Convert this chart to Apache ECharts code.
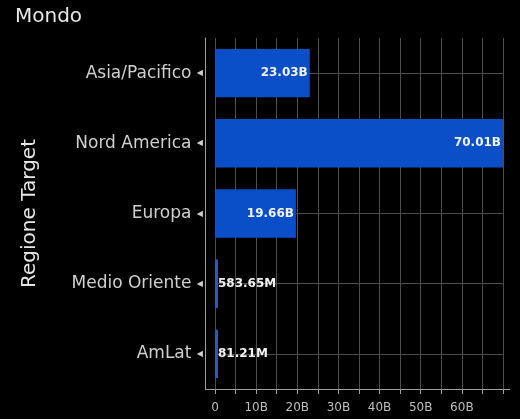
<!DOCTYPE html>
<html><head><meta charset="utf-8">
<script src="https://cdn.jsdelivr.net/npm/echarts@6/dist/echarts.min.js"></script>
<style>html,body{margin:0;padding:0;background:#000;}#c{width:520px;height:419px;}</style>
</head><body><div id="c"></div>
<script>
const categories = ['Asia/Pacifico', 'Nord America', 'Europa', 'Medio Oriente', 'AmLat'];
const valuesB = [23.03, 70.01, 19.66, 0.58365, 0.08121];
const xTickLabels = ['0', '10B', '20B', '30B', '40B', '50B', '60B'];

function fmt(v) {
  if (v >= 1) return v.toFixed(2) + 'B';
  return (v * 1000).toFixed(2) + 'M';
}

const chart = echarts.init(document.getElementById('c'), null, {renderer: 'canvas'});
const font = 'DejaVu Sans';
const axisColor = '#a0a0a0';
const gridLeft = 215, gridBottom = 30;
chart.setOption({
  backgroundColor: '#000',
  animation: false,
  title: {text: 'Mondo', left: 10, top: 2, textStyle: {color: '#e6e6e6', fontSize: 20, fontWeight: 'normal', fontFamily: font}},
  grid: {left: gridLeft, right: 17, top: 38, bottom: gridBottom, containLabel: false},
  xAxis: {
    type: 'value', min: 0, max: 70, interval: 5,
    axisLine: {show: true, lineStyle: {color: axisColor}},
    axisTick: {show: true, length: 5, lineStyle: {color: axisColor}},
    axisLabel: {
      color: '#bdbdbd', fontSize: 12, fontFamily: font, margin: 13,
      formatter: function (v) {
        const i = v / 10;
        if (Number.isInteger(i) && i < xTickLabels.length) return xTickLabels[i];
        return '';
      }
    },
    splitLine: {show: true, lineStyle: {color: '#4d4d4d', width: 1}}
  },
  yAxis: {
    type: 'category', data: categories, inverse: true, offset: 10,
    name: 'Regione Target', nameLocation: 'middle', nameGap: 165, nameRotate: 90,
    nameTextStyle: {color: '#e6e6e6', fontSize: 20, fontFamily: font},
    axisLine: {show: true, onZero: false, lineStyle: {color: axisColor}},
    axisTick: {show: false},
    axisLabel: {
      color: '#cfcfcf', fontSize: 17, fontFamily: font, margin: 2,
      formatter: function (v) { return v + ' {t|◀}'; },
      rich: {t: {fontSize: 8, color: '#cfcfcf'}}
    },
    splitLine: {show: true, alignWithLabel: true, lineStyle: {color: '#4d4d4d'}}
  },
  series: [{
    type: 'bar', barWidth: '69%', barMinHeight: 3,
    itemStyle: {color: '#0a4fc8'},
    data: valuesB.map(function (v) {
      const small = v < 5;
      return {
        value: v,
        itemStyle: small ? {color: '#2a5cae'} : undefined,
        label: {
          show: true, position: small ? 'right' : 'insideRight',
          distance: small ? 0 : 2,
          formatter: function () { return fmt(v); },
          color: '#f2f2f2', fontSize: 12, fontWeight: 'bold', fontFamily: font
        }
      };
    })
  }]
});
// extend the x-axis baseline to meet the offset y-axis line (frame corner)
const y0 = 419 - gridBottom + 0.5;
chart.setOption({
  graphic: [{
    type: 'line', silent: true, z: 10,
    shape: {x1: gridLeft - 10, y1: y0, x2: 510, y2: y0},
    style: {stroke: axisColor, lineWidth: 1}
  }]
});
</script></body></html>
